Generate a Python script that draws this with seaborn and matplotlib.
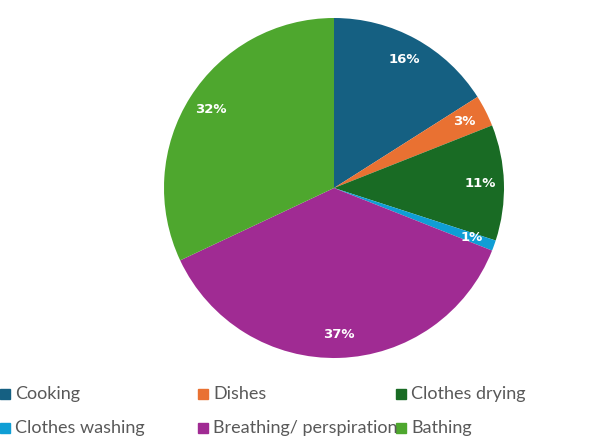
import matplotlib
matplotlib.use("Agg")
import matplotlib.pyplot as plt
from matplotlib.patches import Rectangle
import seaborn as sns

categories = ["Cooking", "Dishes", "Clothes drying", "Clothes washing",
              "Breathing/ perspiration", "Bathing"]
shares = [16, 3, 11, 1, 37, 32]
colors = ["#156082", "#E97132", "#196B24", "#0F9ED5", "#A02B93", "#4EA72E"]

sns.set_theme(style="white")
plt.rcParams["font.family"] = ["Lato", "DejaVu Sans"]

fig = plt.figure(figsize=(6, 4.38), dpi=100)
ax = fig.add_axes([164 / 600, 80 / 438, 340 / 600, 340 / 438])

palette = sns.color_palette(colors)
wedges, texts, autotexts = ax.pie(
    shares, colors=palette, startangle=90, counterclock=False,
    autopct="%d%%", pctdistance=0.86, radius=1,
    textprops=dict(color="white", fontsize=9.5, fontweight="bold",
                   family=["DejaVu Sans"]),
    wedgeprops=dict(linewidth=0),
)
ax.set_xlim(-1, 1)
ax.set_ylim(-1, 1)
ax.set_aspect("equal")
ax.axis("off")

# legend laid out in an even 3-column grid like the original
for i, (name, c) in enumerate(zip(categories, palette)):
    row, col = divmod(i, 3)
    x = col * 198 / 600
    y = 1 - (394 + row * 34) / 438
    fig.patches.append(Rectangle((x, y - 5 / 438), 10 / 600, 10 / 438,
                                 transform=fig.transFigure, color=c))
    fig.text(x + 15 / 600, y, name, va="center", ha="left",
             fontsize=13, color="#595959")

fig.savefig("out.png", dpi=100)
